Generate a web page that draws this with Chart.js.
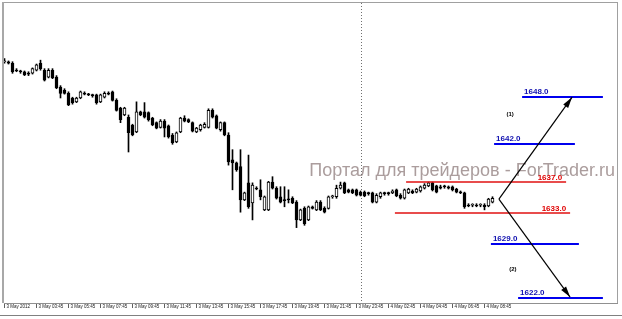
<!DOCTYPE html>
<html><head><meta charset="utf-8">
<script src="https://cdn.jsdelivr.net/npm/chart.js@4.4.1/dist/chart.umd.min.js"></script>
<style>html,body{margin:0;padding:0;background:#fff;overflow:hidden}#wrap{width:622px;height:319px;position:relative}</style>
</head><body><div id="wrap"><canvas id="c" width="622" height="319"></canvas></div>
<script>
// 15-minute bars, 3 May 2012 01:45 onward
const openP = [
1652.6,1652.6,1652.4,1651.5,1651.4,1651.3,1651.1,1651.1,1651.5,1652.4,
1651.5,1650.6,1651.5,1650.6,1649.3,1648.9,1648.5,1647.9,1647.4,1647.9,
1648.5,1648.4,1648.3,1648.3,1647.4,1648.0,1648.5,1648.7,1647.6,1646.6,
1645.7,1645.4,1644.4,1643.5,1646.1,1646.1,1646.0,1645.3,1644.7,1644.1,
1644.9,1644.3,1643.1,1642.2,1643.5,1645.3,1645.1,1644.7,1643.5,1643.8,
1644.1,1644.1,1646.3,1645.6,1643.8,1644.7,1643.1,1639.9,1639.5,1639.0,
1634.7,1636.9,1634.3,1636.2,1636.0,1633.4,1633.4,1637.0,1636.2,1635.1,
1634.7,1634.8,1634.9,1634.4,1632.1,1633.6,1632.1,1633.8,1633.4,1634.4,
1633.6,1633.6,1635.1,1635.1,1636.2,1636.9,1636.0,1636.0,1636.0,1635.7,
1635.7,1635.6,1635.6,1634.4,1635.1,1635.6,1635.6,1635.6,1636.0,1635.3,
1634.9,1635.6,1635.85,1635.7,1635.85,1636.2,1636.5,1636.9,1636.5,1636.4,
1636.5,1636.4,1636.4,1636.1,1635.7,1635.6,1634.0,1634.0,1634.0,1634.0,
1634.0,1633.9,1634.4];
const highP = [
1653.0,1652.7,1652.6,1651.7,1651.5,1651.4,1651.3,1651.8,1652.3,1652.8,
1651.7,1651.7,1651.7,1650.8,1649.5,1649.1,1648.7,1648.0,1648.0,1648.8,
1648.7,1648.5,1648.4,1648.4,1648.4,1648.7,1648.7,1648.8,1647.8,1646.7,
1646.7,1645.7,1644.5,1647.4,1646.2,1647.3,1646.1,1645.4,1644.8,1645.1,
1645.1,1644.4,1643.3,1643.5,1645.4,1645.6,1645.2,1644.8,1644.1,1644.5,
1644.7,1646.5,1646.5,1645.7,1644.8,1644.8,1643.4,1641.2,1639.6,1641.2,
1635.7,1640.5,1636.9,1636.4,1637.3,1635.2,1637.1,1637.7,1636.4,1636.4,
1636.4,1636.0,1635.1,1634.6,1633.5,1633.8,1633.9,1633.9,1634.6,1634.6,
1633.8,1635.2,1635.3,1636.6,1637.0,1637.0,1636.1,1636.1,1636.1,1635.85,
1635.85,1635.7,1635.7,1635.5,1635.7,1635.7,1635.7,1636.0,1636.1,1635.5,
1636.1,1636.2,1636.0,1636.2,1636.5,1636.8,1637.0,1637.0,1636.6,1636.6,
1636.6,1636.5,1636.5,1636.2,1635.85,1635.7,1634.2,1634.2,1634.2,1634.2,
1634.2,1634.9,1635.1];
const lowP = [
1652.4,1652.3,1651.1,1651.3,1651.1,1650.8,1650.8,1651.0,1651.4,1651.5,
1650.1,1650.5,1650.4,1649.1,1647.9,1648.4,1646.9,1647.1,1647.3,1647.8,
1648.3,1648.2,1648.0,1647.1,1647.3,1647.9,1648.3,1647.5,1646.2,1644.7,
1645.6,1640.9,1643.0,1643.4,1645.6,1645.3,1644.9,1644.3,1643.9,1644.0,
1642.85,1642.7,1641.9,1642.1,1643.4,1644.8,1644.7,1643.5,1643.4,1643.6,
1644.0,1644.0,1645.3,1643.9,1643.6,1643.0,1639.2,1636.0,1638.4,1633.1,
1634.6,1633.6,1632.1,1636.0,1634.7,1633.3,1633.3,1636.1,1634.8,1634.3,
1633.8,1634.3,1634.2,1631.1,1632.0,1631.4,1632.0,1633.5,1633.3,1633.3,
1633.0,1633.5,1634.9,1634.9,1636.1,1635.5,1635.6,1635.5,1635.2,1635.2,
1635.1,1635.3,1634.3,1634.3,1634.9,1635.3,1635.3,1635.5,1635.1,1634.8,
1634.8,1635.5,1635.5,1635.6,1635.7,1636.1,1636.4,1635.85,1635.6,1636.1,
1636.2,1636.1,1635.85,1635.6,1635.5,1633.6,1633.8,1633.8,1633.8,1633.8,
1633.4,1633.8,1634.3];
const closeP = [
1652.7,1652.4,1651.3,1651.4,1651.3,1650.9,1651.0,1651.7,1652.2,1651.7,
1650.2,1651.5,1650.5,1649.2,1648.5,1648.5,1647.0,1647.3,1647.9,1648.7,
1648.4,1648.3,1648.2,1647.3,1648.3,1648.5,1648.4,1647.6,1646.3,1645.1,
1646.6,1643.4,1643.1,1646.1,1645.7,1645.4,1645.1,1644.4,1644.0,1644.9,
1644.0,1642.85,1642.1,1643.4,1645.3,1644.9,1644.8,1643.6,1644.0,1644.4,
1644.5,1646.3,1645.4,1644.0,1644.7,1643.1,1639.6,1639.5,1638.6,1634.7,
1635.6,1633.8,1636.6,1636.1,1635.1,1635.1,1637.0,1636.2,1634.9,1634.4,
1634.6,1634.7,1634.3,1632.1,1633.4,1631.6,1633.8,1633.6,1634.4,1633.4,
1633.1,1635.1,1635.2,1636.2,1636.6,1635.6,1635.7,1635.6,1635.3,1635.3,
1635.2,1635.5,1634.4,1635.3,1635.6,1635.5,1635.5,1635.85,1635.2,1634.9,
1636.0,1636.1,1635.6,1636.1,1636.4,1636.6,1636.9,1636.0,1635.7,1636.2,
1636.4,1636.2,1636.0,1635.7,1635.6,1633.8,1633.9,1634.0,1633.9,1634.0,
1633.8,1634.8,1634.9];

const tickLabels = ['3 May 2012','3 May 03:45','3 May 05:45','3 May 07:45','3 May 09:45','3 May 11:45',
  '3 May 13:45','3 May 15:45','3 May 17:45','3 May 19:45','3 May 21:45','3 May 23:45',
  '4 May 02:45','4 May 04:45','4 May 06:45','4 May 08:45'];
const barsPerTick = 8;
const daySeparatorBar = 89;

// forecast levels
const levelValues = [1648.0, 1642.0, 1637.0, 1633.0, 1629.0, 1622.0];
const levelText   = ['1648.0','1642.0','1637.0','1633.0','1629.0','1622.0'];
const levelFrom   = [129.4, 122.4, 100.4, 97.6, 121.6, 128.4];
const levelTo     = [149.6, 142.6, 140.4, 141.4, 143.6, 149.6];
const levelKind   = ['up','up','down','down','up','up'];
// scenario arrows: start bar/price and target bar/price
const arrowStart = {bar: 123.6, price: 1634.8};
const arrowTargets = [{bar: 141.9, price: 1648.0}, {bar: 141.4, price: 1622.1}];
const scenarioNames = ['(1)', '(2)'];
const scenarioPos = [{bar: 126.4, price: 1645.8}, {bar: 127.1, price: 1625.7}];
const watermark = 'Портал для трейдеров - ForTrader.ru';

const idx = openP.map((_, i) => i);
const wickData = idx.map(i => ({x: i, y: [lowP[i], highP[i]]}));
const bodyData = idx.map(i => ({x: i, y: [openP[i], closeP[i]]}));
const bodyFill = idx.map(i => closeP[i] >= openP[i] ? '#ffffff' : '#000000');

const framePlugin = {
  id: 'frame',
  beforeDatasetsDraw(chart) {
    const {ctx, chartArea: a, scales: {x, y}} = chart;
    ctx.save();
    ctx.font = '18px "Liberation Sans", Arial, sans-serif';
    ctx.fillStyle = '#ab9d9d';
    ctx.textBaseline = 'alphabetic';
    ctx.textAlign = 'right';
    ctx.fillText(watermark, a.right - 2, 176);
    const sx = Math.round(x.getPixelForValue(daySeparatorBar)) + 0.5;
    ctx.strokeStyle = '#707070';
    ctx.lineWidth = 1;
    ctx.setLineDash([1, 2]);
    ctx.beginPath(); ctx.moveTo(sx, a.top); ctx.lineTo(sx, a.bottom); ctx.stroke();
    ctx.setLineDash([]);
    ctx.restore();
  },
  afterDraw(chart) {
    const {ctx, chartArea: a, scales: {x, y}} = chart;
    ctx.save();
    levelValues.forEach((v, k) => {
      const py = Math.round(y.getPixelForValue(v));
      const x1 = x.getPixelForValue(levelFrom[k]);
      const x2 = x.getPixelForValue(levelTo[k]);
      const up = levelKind[k] === 'up';
      ctx.strokeStyle = up ? '#0000ee' : '#e01010';
      ctx.lineWidth = up ? 2 : 1.5;
      ctx.beginPath(); ctx.moveTo(x1, py); ctx.lineTo(x2, py); ctx.stroke();
      ctx.font = 'bold 8px "Liberation Sans", Arial, sans-serif';
      ctx.fillStyle = up ? '#1010b0' : '#e00000';
      ctx.textBaseline = 'alphabetic';
      if (up) { ctx.textAlign = 'left'; ctx.fillText(levelText[k], x1 + 2, py - 3); }
      else { ctx.textAlign = 'right'; ctx.fillText(levelText[k], x2 - 4, py - 2); }
    });
    const ax = x.getPixelForValue(arrowStart.bar), ay = y.getPixelForValue(arrowStart.price);
    arrowTargets.forEach(t => {
      const tx = x.getPixelForValue(t.bar), ty = y.getPixelForValue(t.price);
      ctx.strokeStyle = '#000'; ctx.lineWidth = 1.2;
      ctx.beginPath(); ctx.moveTo(ax, ay); ctx.lineTo(tx, ty); ctx.stroke();
      const ang = Math.atan2(ty - ay, tx - ax);
      const L = 11, W = 3;
      ctx.fillStyle = '#000';
      ctx.beginPath();
      ctx.moveTo(tx, ty);
      ctx.lineTo(tx - L * Math.cos(ang) + W * Math.sin(ang), ty - L * Math.sin(ang) - W * Math.cos(ang));
      ctx.lineTo(tx - L * Math.cos(ang) - W * Math.sin(ang), ty - L * Math.sin(ang) + W * Math.cos(ang));
      ctx.closePath(); ctx.fill();
    });
    ctx.font = 'bold 6px "Liberation Sans", Arial, sans-serif';
    ctx.fillStyle = '#000'; ctx.textAlign = 'center'; ctx.textBaseline = 'middle';
    scenarioNames.forEach((s, k) => ctx.fillText(s, x.getPixelForValue(scenarioPos[k].bar), y.getPixelForValue(scenarioPos[k].price)));
    ctx.strokeStyle = '#a0a0a0'; ctx.lineWidth = 1;
    ctx.beginPath();
    ctx.moveTo(a.left, a.top - 0.5); ctx.lineTo(a.right + 1, a.top - 0.5);
    ctx.moveTo(a.right + 0.5, a.top); ctx.lineTo(a.right + 0.5, a.bottom);
    ctx.stroke();
    ctx.fillStyle = '#a8a8a8';
    ctx.fillRect(a.left - 2, a.top - 1, 2, a.bottom - a.top + 1);
    ctx.strokeStyle = '#808080';
    ctx.beginPath(); ctx.moveTo(0, 315.5); ctx.lineTo(622, 315.5); ctx.stroke();
    ctx.restore();
  }
};

new Chart(document.getElementById('c'), {
  type: 'bar',
  data: {
    datasets: [
      {data: wickData, backgroundColor: '#000', barThickness: 1, grouped: false, order: 2, minBarLength: 1},
      {data: bodyData, backgroundColor: bodyFill, borderColor: '#000', borderWidth: 1, borderSkipped: false,
       barThickness: 3, grouped: false, order: 1, minBarLength: 1}
    ]
  },
  options: {
    responsive: false, animation: false,
    layout: {padding: {left: 4, right: 5, top: 3, bottom: 0}},
    plugins: {legend: {display: false}, tooltip: {enabled: false}},
    scales: {
      x: {
        type: 'linear', min: -0.125, max: 153.125, offset: false,
        afterBuildTicks: s => { s.ticks = tickLabels.map((_, k) => ({value: k * barsPerTick})); },
        afterFit: s => { s.height = 16; },
        ticks: {
          callback: (v) => tickLabels[Math.round(v / barsPerTick)] ?? '',
          align: 'start', labelOffset: 2, padding: -4, maxRotation: 0, autoSkip: false,
          font: {size: 4.5, family: '"Liberation Sans", Arial, sans-serif'}, color: '#202020'
        },
        grid: {drawOnChartArea: false, tickLength: 5, color: '#606060', offset: false},
        border: {color: '#909090'}
      },
      y: {display: false, min: 1621.33, max: 1660.21}
    }
  },
  plugins: [framePlugin]
});
</script></body></html>
